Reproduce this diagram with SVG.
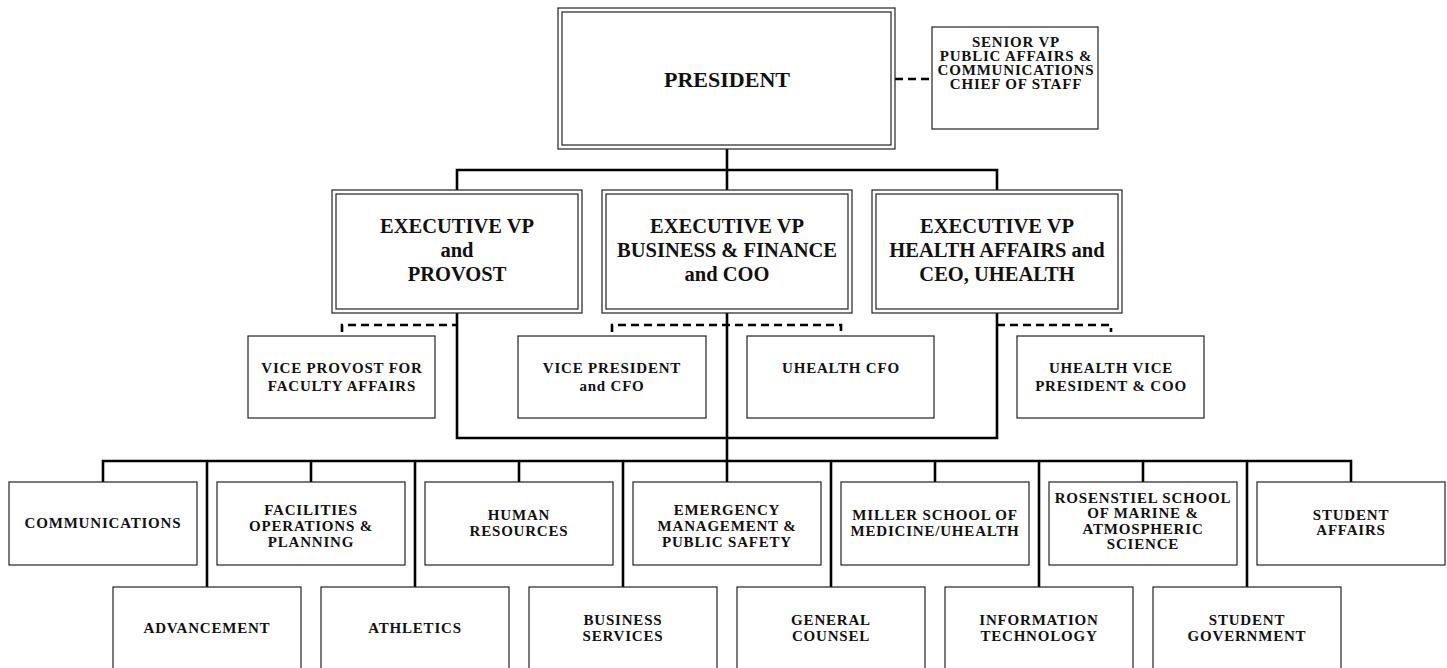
<svg xmlns="http://www.w3.org/2000/svg" width="1447" height="668" viewBox="0 0 1447 668">
<style>
.bg{fill:#fff}
.box{fill:#fff;stroke:#222;stroke-width:1.2}
.c{fill:none;stroke:#000;stroke-width:2.6}
.d{fill:none;stroke:#000;stroke-width:2.6;stroke-dasharray:8 5}
text{font-family:"Liberation Serif","Times New Roman",serif;font-weight:bold;fill:#111;text-anchor:middle}
.s{font-size:15px;letter-spacing:0.8px}
.m{font-size:20.5px}
.l{font-size:22px}
</style>
<rect class="bg" x="0" y="0" width="1447" height="668"/>
<g id="connectors">
  <path class="c" d="M727 149V170M457 190V170H997V190M727 170V190"/>
  <path class="d" d="M895 79H932"/>
  <path class="c" d="M457 313V438H997V313M727 313V482"/>
  <path class="d" d="M342 332V325H457M612 332V325H841V332M997 325H1111V332"/>
  <path class="c" d="M103 482V461H1351V482M311 461V482M519 461V482M935 461V482M1143 461V482"/>
  <path class="c" d="M207 461V587M415 461V587M623 461V587M831 461V587M1039 461V587M1247 461V587"/>
</g>
<g id="president">
  <rect class="box" x="558" y="8" width="337" height="141"/>
  <rect class="box" x="562" y="12" width="329" height="133"/>
  <text class="l" x="727" y="87">PRESIDENT</text>
</g>
<g id="senior-vp">
  <rect class="box" x="932" y="27" width="166" height="102"/>
  <text class="s" x="1016" y="47">SENIOR VP</text>
  <text class="s" x="1016" y="61">PUBLIC AFFAIRS &amp;</text>
  <text class="s" x="1016" y="75">COMMUNICATIONS</text>
  <text class="s" x="1016" y="89">CHIEF OF STAFF</text>
</g>
<g id="evp-provost">
  <rect class="box" x="332" y="190" width="250" height="123"/>
  <rect class="box" x="336" y="194" width="242" height="115"/>
  <text class="m" x="457" y="233">EXECUTIVE VP</text>
  <text class="m" x="457" y="257">and</text>
  <text class="m" x="457" y="281">PROVOST</text>
</g>
<g id="evp-business">
  <rect class="box" x="602" y="190" width="250" height="123"/>
  <rect class="box" x="606" y="194" width="242" height="115"/>
  <text class="m" x="727" y="233">EXECUTIVE VP</text>
  <text class="m" x="727" y="257">BUSINESS &amp; FINANCE</text>
  <text class="m" x="727" y="281">and COO</text>
</g>
<g id="evp-health">
  <rect class="box" x="872" y="190" width="250" height="123"/>
  <rect class="box" x="876" y="194" width="242" height="115"/>
  <text class="m" x="997" y="233">EXECUTIVE VP</text>
  <text class="m" x="997" y="257">HEALTH AFFAIRS and</text>
  <text class="m" x="997" y="281">CEO, UHEALTH</text>
</g>
<g id="vice-provost">
  <rect class="box" x="248" y="336" width="187" height="82"/>
  <text class="s" x="342" y="373">VICE PROVOST FOR</text>
  <text class="s" x="342" y="391">FACULTY AFFAIRS</text>
</g>
<g id="vp-cfo">
  <rect class="box" x="518" y="336" width="188" height="82"/>
  <text class="s" x="612" y="373">VICE PRESIDENT</text>
  <text class="s" x="612" y="391">and CFO</text>
</g>
<g id="uhealth-cfo">
  <rect class="box" x="747" y="336" width="187" height="82"/>
  <text class="s" x="841" y="373">UHEALTH CFO</text>
</g>
<g id="uhealth-vp">
  <rect class="box" x="1017" y="336" width="187" height="82"/>
  <text class="s" x="1111" y="373">UHEALTH VICE</text>
  <text class="s" x="1111" y="391">PRESIDENT &amp; COO</text>
</g>
<g id="communications">
  <rect class="box" x="9" y="482" width="188" height="83"/>
  <text class="s" x="103" y="528">COMMUNICATIONS</text>
</g>
<g id="facilities">
  <rect class="box" x="217" y="482" width="188" height="83"/>
  <text class="s" x="311" y="515">FACILITIES</text>
  <text class="s" x="311" y="531">OPERATIONS &amp;</text>
  <text class="s" x="311" y="547">PLANNING</text>
</g>
<g id="human-resources">
  <rect class="box" x="425" y="482" width="188" height="83"/>
  <text class="s" x="519" y="520">HUMAN</text>
  <text class="s" x="519" y="536">RESOURCES</text>
</g>
<g id="emergency">
  <rect class="box" x="633" y="482" width="188" height="83"/>
  <text class="s" x="727" y="515">EMERGENCY</text>
  <text class="s" x="727" y="531">MANAGEMENT &amp;</text>
  <text class="s" x="727" y="547">PUBLIC SAFETY</text>
</g>
<g id="miller">
  <rect class="box" x="841" y="482" width="188" height="83"/>
  <text class="s" x="935" y="520">MILLER SCHOOL OF</text>
  <text class="s" x="935" y="536">MEDICINE/UHEALTH</text>
</g>
<g id="rosenstiel">
  <rect class="box" x="1049" y="482" width="188" height="83"/>
  <text class="s" x="1143" y="503">ROSENSTIEL SCHOOL</text>
  <text class="s" x="1143" y="518">OF MARINE &amp;</text>
  <text class="s" x="1143" y="534">ATMOSPHERIC</text>
  <text class="s" x="1143" y="549">SCIENCE</text>
</g>
<g id="student-affairs">
  <rect class="box" x="1257" y="482" width="188" height="83"/>
  <text class="s" x="1351" y="520">STUDENT</text>
  <text class="s" x="1351" y="535">AFFAIRS</text>
</g>
<g id="advancement">
  <rect class="box" x="113" y="587" width="188" height="85"/>
  <text class="s" x="207" y="633">ADVANCEMENT</text>
</g>
<g id="athletics">
  <rect class="box" x="321" y="587" width="188" height="85"/>
  <text class="s" x="415" y="633">ATHLETICS</text>
</g>
<g id="business-services">
  <rect class="box" x="529" y="587" width="188" height="85"/>
  <text class="s" x="623" y="625">BUSINESS</text>
  <text class="s" x="623" y="641">SERVICES</text>
</g>
<g id="general-counsel">
  <rect class="box" x="737" y="587" width="188" height="85"/>
  <text class="s" x="831" y="625">GENERAL</text>
  <text class="s" x="831" y="641">COUNSEL</text>
</g>
<g id="information-technology">
  <rect class="box" x="945" y="587" width="188" height="85"/>
  <text class="s" x="1039" y="625">INFORMATION</text>
  <text class="s" x="1039" y="641">TECHNOLOGY</text>
</g>
<g id="student-government">
  <rect class="box" x="1153" y="587" width="188" height="85"/>
  <text class="s" x="1247" y="625">STUDENT</text>
  <text class="s" x="1247" y="641">GOVERNMENT</text>
</g>
</svg>
